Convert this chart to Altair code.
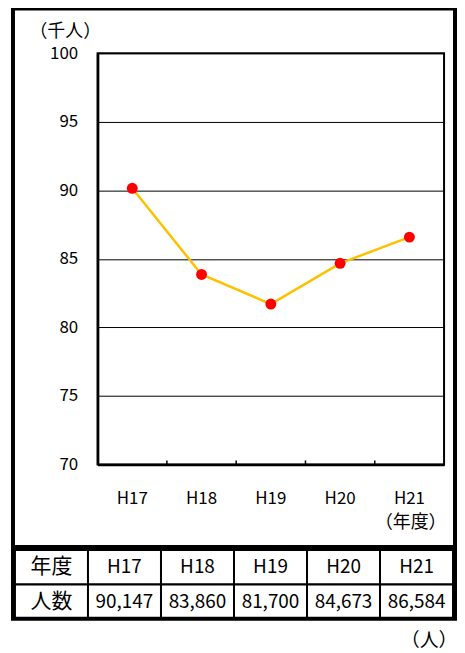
import altair as alt
import pandas as pd

# ---- data ----
years = ["H17", "H18", "H19", "H20", "H21"]
visitors = [90147, 83860, 81700, 84673, 86584]
y_ticks = [70, 75, 80, 85, 90, 95, 100]
row_labels = ["年度", "人数"]
unit_y = "（千人）"
unit_x = "（年度）"
unit_table = "（人）"

FONT = "Noto Sans CJK JP"
W, H = 348, 413

df = pd.DataFrame({"year": years, "thousand": [v / 1000 for v in visitors]})
ticks_df = pd.DataFrame({"year": years[1:]})

xscale = alt.Scale(type="band", domain=years, paddingInner=0, paddingOuter=0)
yscale = alt.Scale(domain=[70, 100], nice=False, zero=False)

x_axis = alt.Axis(
    title=unit_x, labelAngle=0,
    ticks=False, domain=True, domainColor="black", domainWidth=2.5,
    labelFontSize=17, labelPadding=26, labelColor="black", labelFont=FONT,
    titleX=314, titleY=58, titleAlign="center", titleBaseline="middle",
    titleFontSize=18, titleFontWeight="normal", titleColor="black",
    titleFont=FONT, grid=False,
)
x_enc = alt.X("year:N", sort=years, scale=xscale, bandPosition=0.5, axis=x_axis)
y_enc = alt.Y(
    "thousand:Q", scale=yscale,
    axis=alt.Axis(
        values=y_ticks, title=unit_y, titleAngle=0, titleX=-33, titleY=-22,
        titleAlign="center", titleBaseline="middle", titleFontSize=18,
        titleFontWeight="normal", titleColor="black", titleFont=FONT,
        grid=True, gridColor="black", gridWidth=1, gridOpacity=1,
        ticks=False, labelPadding=20, labelFontSize=17, labelColor="black",
        labelFont=FONT, domainWidth=2.5, domainColor="black",
    ),
)

line = alt.Chart(df).mark_line(color="#FFC000", strokeWidth=2.5).encode(x=x_enc, y=y_enc)
points = alt.Chart(df).mark_circle(color="#FF0000", size=120, opacity=1).encode(x=x_enc, y=y_enc)
tick_marks = alt.Chart(ticks_df).mark_rule(color="black", strokeWidth=1.5).encode(
    x=alt.X("year:N", sort=years, scale=xscale, bandPosition=0, axis=x_axis),
    y=alt.value(H - 4), y2=alt.value(H),
)
main = alt.layer(line, tick_marks, points)

# ---- table ----
rows = []
for lab, vals in [(row_labels[0], years), (row_labels[1], [f"{v:,}" for v in visitors])]:
    rows.append({"row": lab, "col": "head", "text": lab})
    for yr, v in zip(years, vals):
        rows.append({"row": lab, "col": yr, "text": v})
tdf = pd.DataFrame(rows)

tcol_scale = alt.Scale(type="band", domain=["head"] + years, range=[-83, 357],
                       paddingInner=0, paddingOuter=0)
trow_scale = alt.Scale(type="band", domain=row_labels, range=[499, 568],
                       paddingInner=0, paddingOuter=0)
tx = alt.X("col:N", scale=tcol_scale, axis=None, bandPosition=0.5)
ty = alt.Y("row:N", scale=trow_scale, axis=None, bandPosition=0.5)
tx_r = alt.X("col:N", scale=tcol_scale, axis=None)
ty_r = alt.Y("row:N", scale=trow_scale, axis=None)

cells = alt.Chart(tdf).mark_rect(fill="white", stroke="black", strokeWidth=2).encode(x=tx_r, y=ty_r)
cell_text = alt.Chart(tdf).transform_filter("datum.col != 'head'").mark_text(
    fontSize=19, font=FONT, color="black", baseline="middle", align="center"
).encode(x=tx, y=ty, text="text:N")
head_text = alt.Chart(tdf).transform_filter("datum.col == 'head'").mark_text(
    fontSize=21, font=FONT, color="black", baseline="middle", align="center"
).encode(x=tx, y=ty, text="text:N")

one = pd.DataFrame({"t": [unit_table]})
frame = alt.Chart(one).mark_rect(fillOpacity=0, stroke="black", strokeWidth=4).encode(
    x=alt.value(-85), x2=alt.value(359), y=alt.value(-45), y2=alt.value(568)
)
sep = alt.Chart(one).mark_rule(color="black", strokeWidth=5).encode(
    x=alt.value(-85), x2=alt.value(359), y=alt.value(496.5)
)
unit_text = alt.Chart(one).mark_text(fontSize=19, font=FONT, color="black", baseline="middle",
                                     align="center").encode(
    x=alt.value(333), y=alt.value(590), text="t:N"
)

table = alt.layer(cells, cell_text, head_text, sep, frame, unit_text)

chart = alt.layer(main, table).resolve_scale(x="independent", y="independent").properties(
    width=W, height=H,
    padding={"left": 90, "top": 44, "right": 13, "bottom": 193},
    autosize=alt.AutoSizeParams(type="none"),
    background="white",
).configure_view(stroke="black", strokeWidth=2)

chart.save("out.html", embed_options={"renderer": "svg", "actions": False})
